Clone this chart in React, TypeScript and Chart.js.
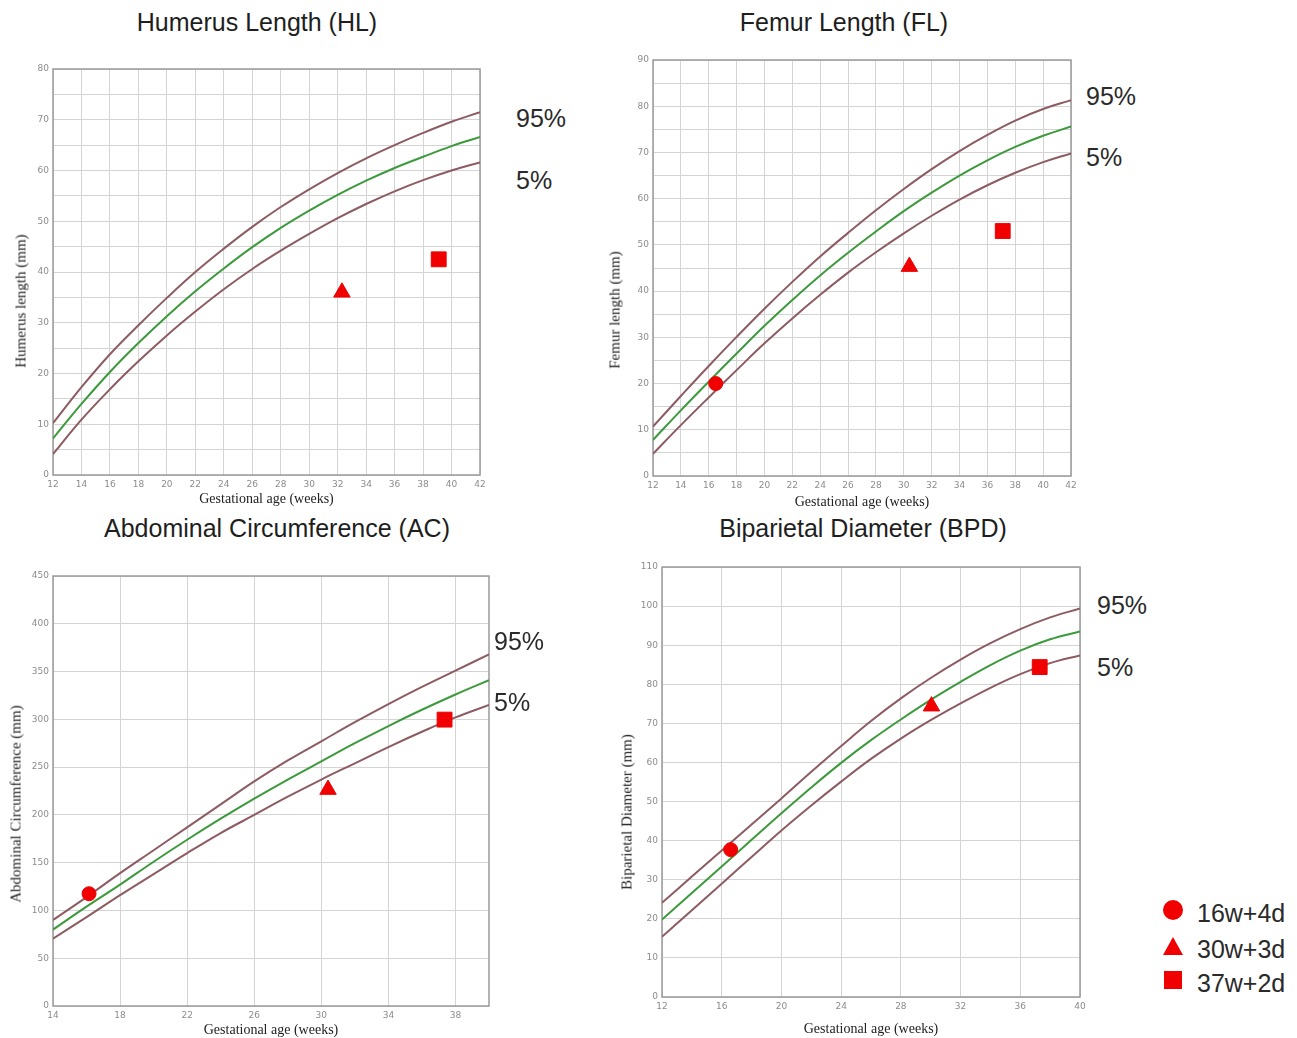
import React, { useEffect, useRef } from 'react';
import { Chart, registerables } from 'chart.js';

Chart.register(...registerables);

// ---------- Humerus Length (HL) ----------
const hlWeeks = [12, 14, 16, 18, 20, 22, 24, 26, 28, 30, 32, 34, 36, 38, 40, 42];
const hlP95 = [10.2, 17.3, 23.8, 29.5, 34.9, 40.0, 44.6, 48.9, 52.8, 56.3, 59.5, 62.4, 65.0, 67.4, 69.6, 71.5];
const hlP50 = [7.2, 14.0, 20.3, 26.0, 31.3, 36.2, 40.7, 44.9, 48.7, 52.1, 55.2, 58.0, 60.5, 62.7, 64.8, 66.6];
const hlP5 = [4.1, 10.9, 16.9, 22.4, 27.5, 32.2, 36.6, 40.6, 44.2, 47.5, 50.6, 53.4, 55.9, 58.1, 60.0, 61.6];
const hlMarkWeeks = [32.3, 39.1];
const hlMarkValues = [36, 42.5];
const hlMarkShapes = ['triangle', 'rect'];
const hlXTicks = [12, 14, 16, 18, 20, 22, 24, 26, 28, 30, 32, 34, 36, 38, 40, 42];
const hlYTicks = [0, 5, 10, 15, 20, 25, 30, 35, 40, 45, 50, 55, 60, 65, 70, 75, 80];

// ---------- Femur Length (FL) ----------
const flWeeks = [12, 14, 16, 18, 20, 22, 24, 26, 28, 30, 32, 34, 36, 38, 40, 42];
const flP95 = [10.7, 17.3, 23.8, 30.1, 36.2, 42.0, 47.5, 52.6, 57.5, 62.1, 66.4, 70.3, 73.8, 76.9, 79.4, 81.3];
const flP50 = [7.8, 14.2, 20.4, 26.5, 32.5, 38.1, 43.4, 48.3, 52.9, 57.3, 61.3, 65.0, 68.3, 71.2, 73.6, 75.6];
const flP5 = [4.8, 11.0, 17.0, 22.9, 28.7, 34.1, 39.2, 44.0, 48.4, 52.5, 56.3, 59.8, 62.9, 65.6, 67.9, 69.8];
const flMarkWeeks = [16.5, 30.4, 37.1];
const flMarkValues = [20, 45.3, 53];
const flMarkShapes = ['circle', 'triangle', 'rect'];
const flXTicks = [12, 14, 16, 18, 20, 22, 24, 26, 28, 30, 32, 34, 36, 38, 40, 42];
const flYTicks = [0, 5, 10, 15, 20, 25, 30, 35, 40, 45, 50, 55, 60, 65, 70, 75, 80, 85, 90];

// ---------- Abdominal Circumference (AC) ----------
const acWeeks = [14, 16, 18, 20, 22, 24, 26, 28, 30, 32, 34, 36, 38, 40];
const acP95 = [90, 114, 139, 163, 187, 211, 235, 257, 277, 297, 316, 334, 351, 368];
const acP50 = [80, 104, 127, 151, 174, 196, 217, 237, 256, 275, 293, 310, 326, 341];
const acP5 = [70.5, 93, 116, 138, 160, 181, 200, 219, 237, 254, 271, 287, 302, 315];
const acMarkWeeks = [16.15, 30.4, 37.35];
const acMarkValues = [117.5, 226.5, 299.7];
const acMarkShapes = ['circle', 'triangle', 'rect'];
const acXTicks = [14, 18, 22, 26, 30, 34, 38];
const acYTicks = [0, 50, 100, 150, 200, 250, 300, 350, 400, 450];

// ---------- Biparietal Diameter (BPD) ----------
const bpdWeeks = [12, 14, 16, 18, 20, 22, 24, 26, 28, 30, 32, 34, 36, 38, 40];
const bpdP95 = [24.1, 30.8, 37.5, 44.1, 50.8, 57.6, 64.2, 70.6, 76.4, 81.6, 86.3, 90.5, 94.1, 97.1, 99.4];
const bpdP50 = [19.8, 26.6, 33.4, 40.2, 47.0, 53.6, 59.9, 65.7, 71.0, 76.0, 80.6, 84.9, 88.6, 91.5, 93.5];
const bpdP5 = [15.4, 22.2, 29.0, 35.8, 42.6, 49.0, 55.1, 60.9, 66.1, 70.8, 75.1, 79.1, 82.6, 85.4, 87.4];
const bpdMarkWeeks = [16.6, 30.05, 37.3];
const bpdMarkValues = [37.7, 74.4, 84.4];
const bpdMarkShapes = ['circle', 'triangle', 'rect'];
const bpdXTicks = [12, 16, 20, 24, 28, 32, 36, 40];
const bpdYTicks = [0, 10, 20, 30, 40, 50, 60, 70, 80, 90, 100, 110];

// ---------- Legend ----------
const legendLabels = ['16w+4d', '30w+3d', '37w+2d'];
const legendShapes = ['circle', 'triangle', 'rect'];

const RED = '#f00000';
const BROWN = '#8d5c62';
const GREEN = '#3c9a3c';
const GRID = '#d4d4d4';
const FRAME = '#9a9a9a';
const SANS = '"Liberation Sans", Arial, sans-serif';
const SERIF = '"Liberation Serif", "Times New Roman", serif';

type PanelCfg = {
  title: string;
  yTitle: string;
  weeks: number[];
  p95: number[];
  p50: number[];
  p5: number[];
  markX: number[];
  markY: number[];
  markShape: string[];
  xTicks: number[];
  yTicks: number[];
  yLabelEvery: number;
  xMin: number;
  xMax: number;
  yMin: number;
  yMax: number;
  layout: {
    L: number; T: number; R: number; B: number; xAxisH: number;
    titleX: number; titleY: number;
    yTitleX: number; yTitleY: number;
    l95X: number; l95Y: number; l5X: number; l5Y: number;
  };
};

const panels: PanelCfg[] = [
  {
    title: 'Humerus Length (HL)', yTitle: 'Humerus length (mm)',
    weeks: hlWeeks, p95: hlP95, p50: hlP50, p5: hlP5,
    markX: hlMarkWeeks, markY: hlMarkValues, markShape: hlMarkShapes,
    xTicks: hlXTicks, yTicks: hlYTicks, yLabelEvery: 10,
    xMin: 12, xMax: 42, yMin: 0, yMax: 80,
    layout: { L: 53, T: 69, R: 480, B: 475, xAxisH: 35, titleX: 257, titleY: 22, yTitleX: 21, yTitleY: 301, l95X: 516, l95Y: 118, l5X: 516, l5Y: 180 },
  },
  {
    title: 'Femur Length (FL)', yTitle: 'Femur length (mm)',
    weeks: flWeeks, p95: flP95, p50: flP50, p5: flP5,
    markX: flMarkWeeks, markY: flMarkValues, markShape: flMarkShapes,
    xTicks: flXTicks, yTicks: flYTicks, yLabelEvery: 10,
    xMin: 12, xMax: 42, yMin: 0, yMax: 90,
    layout: { L: 653, T: 60, R: 1071, B: 476, xAxisH: 37, titleX: 844, titleY: 22, yTitleX: 615, yTitleY: 310, l95X: 1086, l95Y: 96, l5X: 1086, l5Y: 157 },
  },
  {
    title: 'Abdominal Circumference (AC)', yTitle: 'Abdominal Circumference (mm)',
    weeks: acWeeks, p95: acP95, p50: acP50, p5: acP5,
    markX: acMarkWeeks, markY: acMarkValues, markShape: acMarkShapes,
    xTicks: acXTicks, yTicks: acYTicks, yLabelEvery: 50,
    xMin: 14, xMax: 40, yMin: 0, yMax: 450,
    layout: { L: 53, T: 576, R: 489, B: 1006, xAxisH: 35, titleX: 277, titleY: 528, yTitleX: 16, yTitleY: 804, l95X: 494, l95Y: 641, l5X: 494, l5Y: 702 },
  },
  {
    title: 'Biparietal Diameter (BPD)', yTitle: 'Biparietal Diameter (mm)',
    weeks: bpdWeeks, p95: bpdP95, p50: bpdP50, p5: bpdP5,
    markX: bpdMarkWeeks, markY: bpdMarkValues, markShape: bpdMarkShapes,
    xTicks: bpdXTicks, yTicks: bpdYTicks, yLabelEvery: 10,
    xMin: 12, xMax: 40, yMin: 0, yMax: 110,
    layout: { L: 662, T: 567, R: 1080, B: 997, xAxisH: 43, titleX: 863, titleY: 528, yTitleX: 627, yTitleY: 812, l95X: 1097, l95Y: 605, l5X: 1097, l5Y: 667 },
  },
];

const framePlugin = {
  id: 'frame',
  beforeDatasetsDraw(chart: any) {
    const { ctx, chartArea: a } = chart;
    ctx.save();
    ctx.strokeStyle = FRAME;
    ctx.lineWidth = 1.5;
    ctx.strokeRect(a.left, a.top, a.right - a.left, a.bottom - a.top);
    ctx.restore();
  },
};

function markerRadius(shape: string) {
  if (shape === 'circle') return 7;
  if (shape === 'triangle') return 9.5;
  return 10.5;
}

function ChartPanel({ p }: { p: PanelCfg }) {
  const ref = useRef<HTMLCanvasElement>(null);
  const { L, T, R, B, xAxisH } = p.layout;
  const width = R - L + 65;
  const height = B - T + 15 + xAxisH;

  useEffect(() => {
    const curve = (vals: number[], color: string) => ({
      type: 'line',
      data: p.weeks.map((w, i) => ({ x: w, y: vals[i] })),
      borderColor: color,
      backgroundColor: color,
      borderWidth: 2,
      pointRadius: 0,
      fill: false,
      tension: 0.4,
    });
    const chart = new Chart(ref.current as HTMLCanvasElement, {
      type: 'line',
      data: {
        datasets: [
          {
            label: 'patient',
            data: p.markX.map((x, i) => ({ x, y: p.markY[i] })),
            showLine: false,
            pointStyle: p.markShape as any,
            pointRadius: p.markShape.map(markerRadius),
            pointBackgroundColor: RED,
            pointBorderColor: RED,
            pointBorderWidth: 1,
            backgroundColor: RED,
            borderColor: RED,
          } as any,
          curve(p.p95, BROWN) as any,
          curve(p.p50, GREEN) as any,
          curve(p.p5, BROWN) as any,
        ],
      },
      options: {
        responsive: false,
        animation: false,
        devicePixelRatio: 1,
        layout: { padding: { top: 15, right: 15, left: 0, bottom: 0 } },
        plugins: {
          legend: { display: false },
          tooltip: { enabled: false },
          title: { display: false },
        },
        scales: {
          x: {
            type: 'linear',
            min: p.xMin,
            max: p.xMax,
            afterBuildTicks: (s: any) => { s.ticks = p.xTicks.map((v) => ({ value: v })); },
            afterFit: (s: any) => { s.height = xAxisH; },
            grid: { color: GRID, drawTicks: false, lineWidth: 1 },
            border: { display: false },
            ticks: {
              padding: 4,
              autoSkip: false,
              maxRotation: 0,
              color: '#8c8c8c',
              font: { family: '"DejaVu Sans", sans-serif', size: 9 },
            },
            title: {
              display: true,
              text: 'Gestational age (weeks)',
              color: '#222',
              font: { family: SERIF, size: 14 },
              padding: { top: 0, bottom: 2 },
            },
          },
          y: {
            type: 'linear',
            min: p.yMin,
            max: p.yMax,
            afterBuildTicks: (s: any) => { s.ticks = p.yTicks.map((v) => ({ value: v })); },
            afterFit: (s: any) => { s.width = 50; },
            grid: { color: GRID, drawTicks: false, lineWidth: 1 },
            border: { display: false },
            ticks: {
              padding: 4,
              autoSkip: false,
              color: '#8c8c8c',
              font: { family: '"DejaVu Sans", sans-serif', size: 9 },
              callback: (v: any) => (Number(v) % p.yLabelEvery === 0 ? String(v) : ''),
            },
          },
        },
      } as any,
      plugins: [framePlugin],
    });
    return () => chart.destroy();
  }, []);

  return (
    <canvas
      ref={ref}
      width={width}
      height={height}
      style={{ position: 'absolute', left: L - 50, top: T - 15, width, height }}
    />
  );
}

function LegendShape({ shape }: { shape: string }) {
  if (shape === 'circle') {
    return <div style={{ width: 20, height: 20, borderRadius: '50%', background: RED }} />;
  }
  if (shape === 'triangle') {
    return (
      <div style={{ width: 0, height: 0, borderLeft: '10px solid transparent', borderRight: '10px solid transparent', borderBottom: '18px solid ' + RED }} />
    );
  }
  return <div style={{ width: 18, height: 18, background: RED }} />;
}

const legendRowY = [910, 946, 980];

export default function App() {
  return (
    <div
      style={{
        position: 'absolute',
        left: 0,
        top: 0,
        width: 1297,
        height: 1038,
        background: '#fff',
        fontFamily: SANS,
        overflow: 'hidden',
      }}
    >
      {panels.map((p, i) => (
        <React.Fragment key={i}>
          <ChartPanel p={p} />
          <div
            style={{
              position: 'absolute', left: p.layout.titleX, top: p.layout.titleY,
              transform: 'translate(-50%, -50%)', whiteSpace: 'nowrap',
              fontSize: 25, lineHeight: 1, color: '#1e1e1e',
            }}
          >
            {p.title}
          </div>
          <div
            style={{
              position: 'absolute', left: p.layout.yTitleX, top: p.layout.yTitleY,
              transform: 'translate(-50%, -50%) rotate(-90deg)', whiteSpace: 'nowrap',
              fontSize: 15, lineHeight: 1, color: '#222', fontFamily: SERIF,
            }}
          >
            {p.yTitle}
          </div>
          <div
            style={{
              position: 'absolute', left: p.layout.l95X, top: p.layout.l95Y,
              transform: 'translateY(-50%)', whiteSpace: 'nowrap',
              fontSize: 25, lineHeight: 1, color: '#2a2a2a',
            }}
          >
            95%
          </div>
          <div
            style={{
              position: 'absolute', left: p.layout.l5X, top: p.layout.l5Y,
              transform: 'translateY(-50%)', whiteSpace: 'nowrap',
              fontSize: 25, lineHeight: 1, color: '#2a2a2a',
            }}
          >
            5%
          </div>
        </React.Fragment>
      ))}
      {legendLabels.map((lab, i) => (
        <React.Fragment key={'lg' + i}>
          <div
            style={{
              position: 'absolute', left: 1173, top: legendRowY[i],
              transform: 'translate(-50%, -50%)',
            }}
          >
            <LegendShape shape={legendShapes[i]} />
          </div>
          <div
            style={{
              position: 'absolute', left: 1197, top: legendRowY[i] + 3,
              transform: 'translateY(-50%)', whiteSpace: 'nowrap',
              fontSize: 25, lineHeight: 1, color: '#2a2a2a',
            }}
          >
            {lab}
          </div>
        </React.Fragment>
      ))}
    </div>
  );
}
